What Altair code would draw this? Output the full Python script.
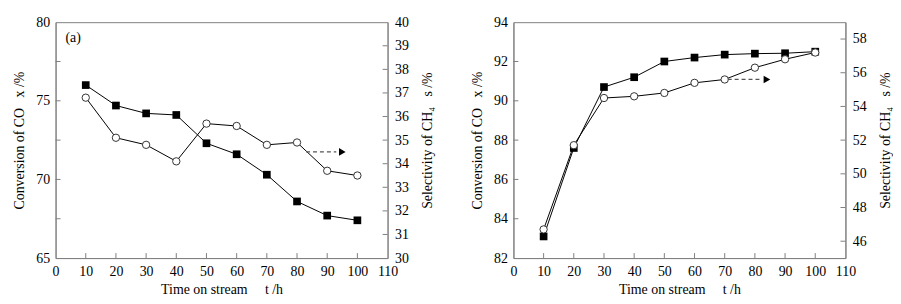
import altair as alt
import pandas as pd

# ---- data ----
time_h = [10, 20, 30, 40, 50, 60, 70, 80, 90, 100]
conv_a = [76.0, 74.7, 74.2, 74.1, 72.3, 71.6, 70.3, 68.6, 67.7, 67.4]
sel_a = [36.8, 35.1, 34.8, 34.1, 35.7, 35.6, 34.8, 34.9, 33.7, 33.5]
conv_b = [83.1, 87.6, 90.7, 91.2, 92.0, 92.2, 92.35, 92.4, 92.42, 92.5]
sel_b = [46.7, 51.7, 54.5, 54.6, 54.8, 55.4, 55.6, 56.3, 56.8, 57.2]

x_labels = [0, 10, 20, 30, 40, 50, 60, 70, 80, 90, 100, 110]
x_ticks = [10, 20, 30, 40, 50, 60, 70, 80, 90, 100]

conv_a_labels = [65, 70, 75, 80]
conv_a_ticks = [67.5, 70, 72.5, 75, 77.5]
sel_a_labels = [30, 31, 32, 33, 34, 35, 36, 37, 38, 39, 40]
sel_a_ticks = [31, 32, 33, 34, 35, 36, 37, 38, 39]

conv_b_labels = [82, 84, 86, 88, 90, 92, 94]
conv_b_ticks = [84, 86, 88, 90, 92]
sel_b_labels = [46, 48, 50, 52, 54, 56, 58]
sel_b_ticks = [46, 48, 50, 52, 54, 56, 58]

arrow_a = {"start": 83, "end": 95, "level": 34.5}
arrow_b = {"start": 71, "end": 84, "level": 55.6}

x_title = "Time on stream\u2003 t /h"
conv_title = "Conversion of CO \u2002x /%"
sel_title = "Selectivity of CH\u2084 \u2002s /%"

W, H = 335, 238
FONT = "Liberation Serif"
GRAY = "#808080"


def panel(conv, sel, conv_dom, sel_dom, conv_labels, conv_ticks,
          sel_labels, sel_ticks, arrow, tag=None):
    X = alt.X("t:Q", scale=alt.Scale(domain=[0, 110], nice=False),
              axis=alt.Axis(values=x_labels, title=x_title,
                            ticks=False, labelPadding=7, titlePadding=4,
                            labelFlush=False, labelOverlap=False))
    Yc = alt.Y("v:Q", scale=alt.Scale(domain=conv_dom, nice=False, zero=False),
               axis=alt.Axis(values=conv_labels, orient="left", ticks=False,
                             title=conv_title, labelFlush=False, labelOverlap=False,
                             labelPadding=6, titlePadding=9))
    Ys = alt.Y("v:Q", scale=alt.Scale(domain=sel_dom, nice=False, zero=False),
               axis=alt.Axis(values=sel_labels, orient="right", ticks=False,
                             title=sel_title, labelFlush=False, labelOverlap=False,
                             titleAngle=270, titleBaseline="top",
                             labelPadding=7, titlePadding=12))

    dc = pd.DataFrame({"t": time_h, "v": conv})
    ds = pd.DataFrame({"t": time_h, "v": sel})

    c_line = alt.Chart(dc).mark_line(color="black", strokeWidth=1).encode(x=X, y=Yc)
    c_pts = alt.Chart(dc).mark_point(shape="square", filled=True, color="black",
                                     size=60, opacity=1).encode(x=X, y=Yc)
    c_ticks = alt.Chart(pd.DataFrame({"v": conv_ticks})).mark_rule(
        color=GRAY).encode(y=Yc, x=alt.value(0), x2=alt.value(5))
    b_ticks = alt.Chart(pd.DataFrame({"t": x_ticks})).mark_rule(
        color=GRAY).encode(x=X, y=alt.value(H), y2=alt.value(H - 5))
    conv_layers = [c_line, c_pts, c_ticks, b_ticks]
    if tag:
        conv_layers.append(
            alt.Chart(pd.DataFrame({"s": [tag]})).mark_text(
                font=FONT, fontSize=14, align="left", baseline="middle",
                color="black").encode(text="s:N", x=alt.value(10), y=alt.value(16)))
    conv_layer = alt.layer(*conv_layers)

    s_line = alt.Chart(ds).mark_line(color="black", strokeWidth=1).encode(x=X, y=Ys)
    s_pts = alt.Chart(ds).mark_point(shape="circle", filled=True, fill="white",
                                     stroke="#333333", strokeWidth=1, size=55,
                                     opacity=1).encode(x=X, y=Ys)
    s_ticks = alt.Chart(pd.DataFrame({"v": sel_ticks})).mark_rule(
        color=GRAY).encode(y=Ys, x=alt.value(W - 5), x2=alt.value(W))
    da = pd.DataFrame({"t": [arrow["start"]], "t2": [arrow["end"] - 2],
                       "v": [arrow["level"]]})
    a_line = alt.Chart(da).mark_rule(color="#555555", strokeDash=[4, 3],
                                     strokeWidth=1.3).encode(
        x=X, x2="t2:Q", y=Ys)
    dh = pd.DataFrame({"t": [arrow["end"]], "v": [arrow["level"]]})
    a_head = alt.Chart(dh).mark_point(shape="triangle-right", filled=True,
                                      color="black", size=60, opacity=1).encode(x=X, y=Ys)
    sel_layer = alt.layer(s_line, s_pts, s_ticks, a_line, a_head)

    return alt.layer(conv_layer, sel_layer).resolve_scale(y="independent").properties(
        width=W, height=H)


left = panel(conv_a, sel_a, [65, 80], [30, 40], conv_a_labels, conv_a_ticks,
             sel_a_labels, sel_a_ticks, arrow_a, tag="(a)")
right = panel(conv_b, sel_b, [82, 94], [45, 59], conv_b_labels, conv_b_ticks,
              sel_b_labels, sel_b_ticks, arrow_b)

chart = alt.hconcat(left, right, spacing=35).properties(
    padding={"left": 4, "top": 5, "right": 0, "bottom": 0}
).configure_view(stroke=GRAY, strokeWidth=1).configure_axis(
    domainColor=GRAY, grid=False, labelFont=FONT, titleFont=FONT,
    labelFontSize=14, titleFontSize=14, labelColor="black", titleColor="black",
    titleFontWeight="normal")

chart.save("out.html", embed_options={"renderer": "svg", "actions": False})
